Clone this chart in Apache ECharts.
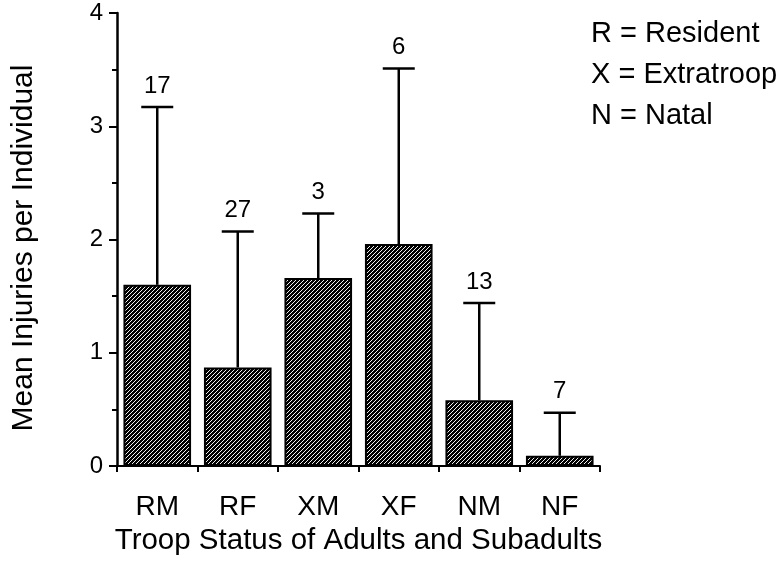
<!DOCTYPE html>
<html><head><meta charset="utf-8">
<script src="https://cdn.jsdelivr.net/npm/echarts@6/dist/echarts.min.js"></script>
<style>html,body{margin:0;padding:0;background:#fff}#c{width:784px;height:563px}</style>
</head><body><div id="c"></div>
<script>
const categories = ['RM','RF','XM','XF','NM','NF'];
const means = [1.60, 0.87, 1.66, 1.96, 0.58, 0.09];
const errTops = [3.17, 2.07, 2.23, 3.51, 1.44, 0.47];
const sampleSizes = ['17','27','3','6','13','7'];
const yTicks = [0, 1, 2, 3, 4];
const legendLines = ['R = Resident', 'X = Extratroop', 'N = Natal'];
const yTitle = 'Mean Injuries per Individual';
const xTitle = 'Troop Status of Adults and Subadults';

const FONT = '"Liberation Sans", Arial, Helvetica, sans-serif';

function hatch() {
  const c = document.createElement('canvas');
  c.width = 4; c.height = 4;
  const g = c.getContext('2d');
  g.fillStyle = '#000'; g.fillRect(0,0,4,4);
  g.strokeStyle = '#fff'; g.lineWidth = 0.95;
  for (let k = -1; k <= 1; k++) {
    g.beginPath();
    g.moveTo(k*4, 4); g.lineTo(k*4+4, 0);
    g.stroke();
  }
  return c;
}

const chart = echarts.init(document.getElementById('c'), null, {renderer:'canvas'});
chart.setOption({
  animation: false,
  backgroundColor: '#fff',
  grid: {left: 117, right: 184, top: 13, bottom: 97},
  graphic: legendLines.map((t, i) => ({
    type: 'text', left: 591, top: 19 + i*41,
    style: {text: t, font: '29px ' + FONT, fill: '#000'}
  })).concat([{
    type: 'text', x: 24, y: 248, rotation: Math.PI/2,
    style: {text: yTitle, font: '30px ' + FONT, fill: '#000', align: 'center', verticalAlign: 'middle'}
  }]),
  xAxis: {
    type: 'category', data: categories,
    name: xTitle,
    nameLocation: 'middle', nameGap: 73,
    nameTextStyle: {fontFamily: FONT, fontSize: 29.5, color: '#000', verticalAlign: 'middle'},
    axisLine: {lineStyle: {color: '#000', width: 2}},
    axisTick: {show: true, length: 6, lineStyle: {color: '#000', width: 2}},
    axisLabel: {fontFamily: FONT, fontSize: 28, color: '#000', margin: 27}
  },
  yAxis: {
    type: 'value', min: 0, max: 4, interval: 1,
    splitLine: {show: false},
    axisLine: {show: true, lineStyle: {color: '#000', width: 2.5}},
    axisTick: {show: true, length: 8, lineStyle: {color: '#000', width: 2}},
    minorTick: {show: true, splitNumber: 2, length: 5, lineStyle: {color: '#000', width: 2}},
    axisLabel: {fontFamily: FONT, fontSize: 24, color: '#000', margin: 14,
      formatter: v => yTicks.includes(v) ? String(v) : ''}
  },
  series: [
    {
      type: 'bar', data: means, barWidth: '84%', z: 2,
      itemStyle: {color: {image: hatch(), repeat: 'repeat'}, borderColor: '#000', borderWidth: 2}
    },
    {
      type: 'custom', z: 3,
      data: means.map((m, i) => [i, m, errTops[i]]),
      renderItem: function (params, api) {
        const i = api.value(0);
        const p0 = api.coord([i, api.value(1)]);
        const p1 = api.coord([i, api.value(2)]);
        const hw = 16;
        return {
          type: 'group',
          children: [
            {type: 'line', shape: {x1: p0[0], y1: p0[1], x2: p1[0], y2: p1[1]}, style: {stroke: '#000', lineWidth: 2.5}},
            {type: 'line', shape: {x1: p1[0]-hw, y1: p1[1], x2: p1[0]+hw, y2: p1[1]}, style: {stroke: '#000', lineWidth: 2.5}},
            {type: 'text', x: p1[0], y: p1[1] - 9, style: {text: sampleSizes[params.dataIndex], font: '24px ' + FONT, fill: '#000', align: 'center', verticalAlign: 'bottom'}}
          ]
        };
      }
    }
  ]
});
</script></body></html>
